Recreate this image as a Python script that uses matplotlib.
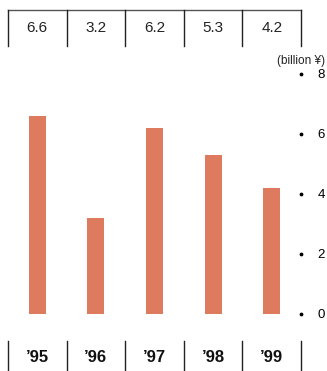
import matplotlib.pyplot as plt
from matplotlib.lines import Line2D

years = ["\u201995", "\u201996", "\u201997", "\u201998", "\u201999"]
values = [6.6, 3.2, 6.2, 5.3, 4.2]
value_labels = ["6.6", "3.2", "6.2", "5.3", "4.2"]
yticks = [0, 2, 4, 6, 8]

plt.rcParams['font.family'] = ['Liberation Sans', 'DejaVu Sans']

W, H = 327, 371
fig = plt.figure(figsize=(W / 100, H / 100), dpi=100)

# main bar axes: columns span x=8..301 px, y 0 at 314 px, 8 at 74 px (from top)
left, right = 8, 301
ax = fig.add_axes([left / W, (H - 314) / H, (right - left) / W, 240 / H])
xs = [i + 0.5 for i in range(len(values))]
ax.bar(xs, values, width=0.29, color='#DE7A5E')
ax.set_xlim(0, len(values))
ax.set_ylim(0, 8)
for s in ax.spines.values():
    s.set_visible(False)
ax.set_xticks([])
ax.yaxis.tick_right()
ax.set_yticks(yticks)
ax.set_yticklabels([str(t) for t in yticks], fontsize=9.5)
ax.tick_params(axis='y', length=0, pad=12)
ax.scatter([len(values)] * len(yticks), yticks, s=3, color='black', clip_on=False, zorder=3)


def fx(px):
    return px / W


def fy(px):
    return (H - px) / H


fig.text(fx(325), fy(61), "(billion \u00a5)", ha='right', va='center', fontsize=8.5, color='#222222')

# top value table
fig.add_artist(Line2D([fx(left), fx(right)], [fy(10), fy(10)], color='#555555', lw=1))
bounds = [left + i * (right - left) / len(values) for i in range(len(values) + 1)]
for b in bounds:
    fig.add_artist(Line2D([fx(b), fx(b)], [fy(10), fy(46)], color='#222222', lw=1))
    fig.add_artist(Line2D([fx(b), fx(b)], [fy(341), fy(371)], color='#222222', lw=1))
for i, lab in enumerate(value_labels):
    cx = (bounds[i] + bounds[i + 1]) / 2
    fig.text(fx(cx), fy(28), lab, ha='center', va='center', fontsize=11, color='#222222')
    fig.text(fx(cx), fy(357), years[i], ha='center', va='center', fontsize=12,
             fontweight='bold', color='#111111')

fig.savefig('out.png', dpi=100)
